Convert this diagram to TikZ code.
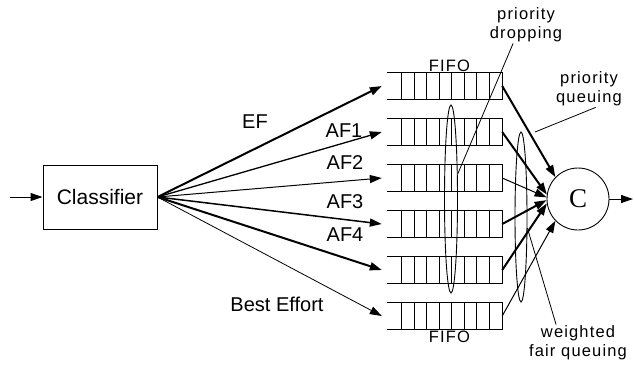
\documentclass[tikz,border=0pt]{standalone}
\usepackage{fontspec}
\setmainfont{Liberation Sans}
\newfontfamily\serifC{Liberation Serif}
\newfontfamily\spacedfont[LetterSpace=7]{Liberation Sans}
\usetikzlibrary{positioning, arrows.meta, shapes.geometric}

\begin{document}
\begin{tikzpicture}[
  x=1pt, y=-1pt,
  font=\fontsize{20}{22}\selectfont,
  % block styles
  box/.style={draw, rectangle, line width=1pt, minimum width=114pt, minimum height=64pt, inner sep=0pt, font=\fontsize{21}{23}\selectfont},
  queue/.style={rectangle, minimum width=115pt, minimum height=26pt, inner sep=0pt},
  cell/.style={draw, line width=1.2pt},
  server/.style={draw, circle, line width=0.9pt, minimum size=62pt, inner sep=0pt, font=\serifC\fontsize{27}{27}\selectfont},
  oval/.style={draw, ellipse, line width=0.9pt, inner sep=0pt},
  small/.style={font=\spacedfont\fontsize{16.5}{19}\selectfont, align=center, inner sep=1pt},
  % arrow styles
  line/.style={draw, line width=1pt, -{Triangle[length=12pt,width=8pt]}},
  thickline/.style={line, line width=2pt},
  leader/.style={draw, line width=0.8pt}
]
  \useasboundingbox (0,0) rectangle (634,365);

  % ==========================================
  % CLASSIFIER
  % ==========================================
  \coordinate (in) at (10,197);
  \node[box] (classifier) at (100,197) {Classifier};
  \draw[line] (in) -- (classifier.west);

  % ==========================================
  % QUEUES
  % ==========================================
  \foreach \i/\y in {1/86,2/132,3/178,4/224,5/270,6/316} {
    \node[queue] (q\i) at (444.5,\y) {};
    \draw[cell] (q\i.north west) -- (q\i.north east) -- (q\i.south east) -- (q\i.south west);
    \foreach \k in {0,...,7}
      \draw[cell] ([xshift={(15+\k*12.5)*1pt}]q\i.north west) -- ([xshift={(15+\k*12.5)*1pt}]q\i.south west);
  }
  \node[small, above=0pt of q1, xshift=5pt] (fifotop) {FIFO};
  \node[small, below=1pt of q6, xshift=5pt] (fifobot) {FIFO};

  % classes
  \draw[thickline] (classifier.east) -- ([xshift=-5pt]q1.west);
  \draw[line, line width=1.3pt] (classifier.east) -- ([xshift=-5pt]q2.west);
  \draw[line] (classifier.east) -- ([xshift=-5pt]q3.west);
  \draw[line, line width=1.5pt] (classifier.east) -- ([xshift=-5pt]q4.west);
  \draw[thickline] (classifier.east) -- ([xshift=-5pt]q5.west);
  \draw[line, line width=0.8pt] (classifier.east) -- ([xshift=-5pt]q6.west);

  \node (ef) at (255,122) {EF};
  \node (af1) at (344,131) {AF1};
  \node (af2) at (345,163) {AF2};
  \node (af3) at (345,202) {AF3};
  \node (af4) at (345,235) {AF4};
  \node (be) at (277,304) {Best Effort};

  % ==========================================
  % SCHEDULER
  % ==========================================
  \node[server] (link) at (578,199) {C};
  \coordinate (out) at (633,199);
  \draw[line] (link.east) -- (out);

  \draw[thickline] (q1.east) -- (link.136);
  \draw[thickline] (q2.east) -- (link.172);
  \draw[line] (q3.east) -- (link.177);
  \draw[thickline] (q4.east) -- (link.182);
  \draw[thickline] (q5.east) -- (link.188);
  \draw[line] (q6.east) -- (link.224);

  % ==========================================
  % DROPPING AND QUEUING ANNOTATIONS
  % ==========================================
  \node[oval, minimum width=13pt, minimum height=188pt] (dropell) at (451,199) {};
  \node[oval, minimum width=12pt, minimum height=170pt] (wfqell) at (521,217) {};

  \node[small] (droplbl) at (526,25) {priority\\dropping};
  \node[small] (pqlbl) at (589,89) {priority\\queuing};
  \node[small] (wfqlbl) at (578,343) {weighted\\fair queuing};
  \coordinate (pqtip) at (535,132);

  \draw[leader] (droplbl.-125) -- (dropell.75);
  \draw[leader] (pqlbl.-70) -- (pqtip);
  \draw[leader] (wfqlbl.140) -- (wfqell.-60);

\end{tikzpicture}
\end{document}
